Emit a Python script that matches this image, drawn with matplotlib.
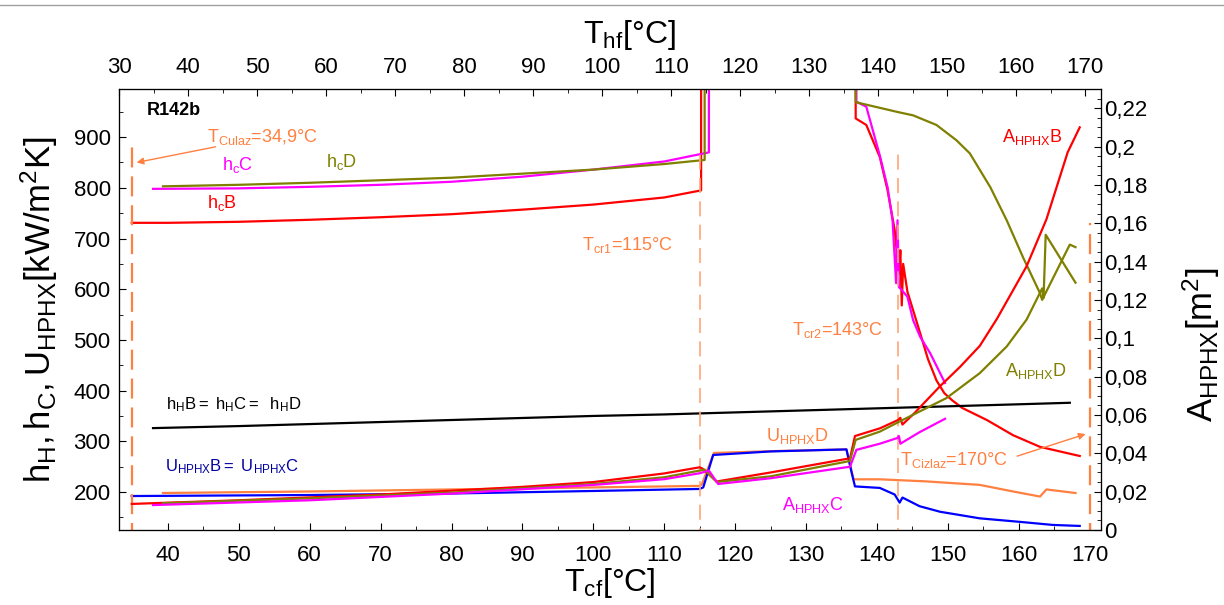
import numpy as np
import matplotlib
matplotlib.use("Agg")
from matplotlib import pyplot as plt
from matplotlib.ticker import MultipleLocator, FuncFormatter
from matplotlib.lines import Line2D

plt.rcParams['font.family'] = ['Liberation Sans', 'DejaVu Sans']
plt.rcParams['mathtext.fontset'] = 'custom'
plt.rcParams['mathtext.rm'] = 'Liberation Sans'
plt.rcParams['mathtext.it'] = 'Liberation Sans'

# ---- data (T_cf in degC) ----
# h_c, left axis
hcB_T = [34.9, 40, 50, 60, 70, 80, 90, 100, 110, 115.2, 115.2]
hcB_v = [731, 731, 733, 737, 742, 748, 757, 767, 781, 795, 1000]
hcB2_T = [137.0, 137.0, 138.5, 140.4, 141.5, 142.5, 143.1, 143.3, 143.5, 143.7, 144.3,
          146.1, 147.2, 148.4, 149.5, 150.6, 152.0, 155.5, 159.2, 163.0, 168.6]
hcB2_v = [1000, 937, 924, 861, 795, 717, 630, 677, 568, 650, 595,
          513, 462, 420, 395, 381, 366, 342, 312, 289, 271]

hcC_T = [37.9, 50, 60, 70, 80, 90, 100, 110, 116.3, 116.3]
hcC_v = [798, 799, 802, 806, 812, 822, 836, 852, 870, 1000]
hcC2_T = [137.1, 137.1, 138.5, 140.4, 141.5, 142.2, 142.7, 142.9, 143.1, 143.4, 144.3,
          145.1, 146.1, 147.5, 149.6]
hcC2_v = [1000, 970, 960, 864, 801, 736, 612, 736, 604, 600, 585,
          539, 506, 474, 415]

hcD_T = [39.3, 50, 60, 70, 80, 90, 100, 110, 115.7, 115.7]
hcD_v = [803, 806, 810, 815, 820, 828, 836, 847, 855, 1000]
hcD2_T = [137.0, 137.0, 142.8, 145.1, 148.4, 151.2, 153.1, 156.0, 158.3, 160.6,
          163.0, 163.3, 167.2, 168.0]
hcD2_v = [1000, 969, 950, 943, 924, 894, 868, 801, 736, 663,
          592, 579, 688, 683]

# h_H (same for B, C, D)
hH_T = [37.9, 50, 60, 70, 80, 90, 100, 110, 120, 130, 140, 150, 160, 167.2]
hH_v = [326, 330, 334, 338, 342, 346, 350, 353, 357, 361, 365, 369, 373, 376]

# U_HPHX
UB_T = [34.9, 60, 80, 100, 115.0, 115.5, 116.9, 125, 135.7, 136.4, 136.9, 140.4,
        142.5, 143.2, 143.6, 146.0, 148.9, 154.5, 160.2, 164.8, 168.6]
UB_v = [192, 194, 197, 202, 206, 209, 273, 280, 284, 240, 211, 208,
        195, 179, 189, 172, 161, 148, 141, 135, 133]
UD_T = [39.3, 60, 80, 100, 115.0, 115.3, 117.0, 126.3, 135.7, 136.7, 140.4, 146.8,
        154.5, 159.2, 163.0, 163.9, 168.0]
UD_v = [198, 201, 205, 209, 212, 215, 277, 281, 284, 225, 225, 221,
        214, 201, 191, 205, 198]

# A_HPHX, right axis
AB_T = [34.9, 50, 60, 70, 80, 90, 100, 110, 115.0, 115.4, 117.4, 125, 136.2, 136.9,
        140.4, 143.0, 143.3, 143.6, 145.3, 148.9, 151.7, 154.5, 156.9, 161.1, 163.9,
        166.9, 168.6]
AB_v = [0.0136, 0.0155, 0.0170, 0.0185, 0.0205, 0.0225, 0.0250, 0.0295, 0.0327, 0.0320,
        0.0253, 0.0300, 0.0374, 0.0490, 0.0530, 0.0574, 0.0585, 0.0550, 0.0610, 0.0750,
        0.0850, 0.0960, 0.1100, 0.1375, 0.1620, 0.1970, 0.2100]
AD_T = [39.3, 60, 80, 100, 110, 115.0, 115.7, 117.4, 125, 136.2, 137.0, 140.4, 143.2,
        149.8, 154.5, 158.3, 161.1, 163.3, 163.5, 163.8, 168.0]
AD_v = [0.0140, 0.0165, 0.0195, 0.0240, 0.0275, 0.0310, 0.0315, 0.0250, 0.0280, 0.0360,
        0.0470, 0.0513, 0.0566, 0.0688, 0.0818, 0.0957, 0.1097, 0.1260, 0.1210, 0.1540,
        0.1290]
AC_T = [37.9, 60, 80, 100, 110, 115.0, 116.3, 117.6, 125, 136.2, 137.1, 140.4, 142.9,
        143.1, 143.3, 146.0, 149.6]
AC_v = [0.0130, 0.0155, 0.0190, 0.0235, 0.0265, 0.0296, 0.0310, 0.0240, 0.0270, 0.0330,
        0.0418, 0.0450, 0.0480, 0.0490, 0.0450, 0.0510, 0.0580]

# marker temperatures
vl_T = [34.9, 115, 143, 170]
vl_top = [881, 878, 871, 730]

RED, MAG, OLV, BLU, ORG, LORG = '#ff0000', '#ff00ff', '#808000', '#0000ff', '#ff8040', '#ffa577'

fig = plt.figure(figsize=(12.24, 6.05), dpi=100)
ax = fig.add_axes([119 / 1224, 1 - 530 / 605, (1101 - 119) / 1224, (530 - 89) / 605])
ax2 = ax.twinx()
ax3 = ax.twiny()

lw = 1.6
ax.plot(hcB_T, hcB_v, color=RED, lw=lw)
ax.plot(hcB2_T, hcB2_v, color=RED, lw=lw)
ax.plot(hcC_T, hcC_v, color=MAG, lw=lw)
ax.plot(hcC2_T, hcC2_v, color=MAG, lw=lw)
ax.plot(hcD_T, hcD_v, color=OLV, lw=lw)
ax.plot(hcD2_T, hcD2_v, color=OLV, lw=lw)
ax.plot(hH_T, hH_v, color='black', lw=lw)
ax.plot(UD_T, UD_v, color=ORG, lw=lw)
ax.plot(UB_T, UB_v, color=BLU, lw=lw)

ax2.plot(AB_T, AB_v, color=RED, lw=lw)
ax2.plot(AD_T, AD_v, color=OLV, lw=lw)
ax2.plot(AC_T, AC_v, color=MAG, lw=lw)

for i, (t, top) in enumerate(zip(vl_T, vl_top)):
    if i in (0, 3):
        ax.plot([t, t], [100, top], color=ORG, lw=1.6, dashes=(9, 4))
    else:
        ax.plot([t, t], [100, top], color=LORG, lw=1.2, dashes=(9, 5))

ax.set_xlim(33.1, 171.6)
ax.set_ylim(125, 995)
ax2.set_ylim(0, 0.23)
ax3.set_xlim(29.95, 172.3)

ax.xaxis.set_major_locator(MultipleLocator(10))
ax.xaxis.set_minor_locator(MultipleLocator(5))
ax.yaxis.set_minor_locator(MultipleLocator(50))
ax.set_yticks(range(200, 1000, 100))
ax2.yaxis.set_major_locator(MultipleLocator(0.02))
ax2.yaxis.set_minor_locator(MultipleLocator(0.005))
ax2.yaxis.set_major_formatter(FuncFormatter(lambda v, p: ('%g' % round(v, 3)).replace('.', ',')))
ax3.xaxis.set_major_locator(MultipleLocator(10))
ax3.xaxis.set_minor_locator(MultipleLocator(5))

ax.tick_params(which='both', direction='in', top=False, right=False, labelsize=16)
ax.tick_params(which='major', length=5)
ax.tick_params(which='minor', length=3)
ax.tick_params(axis='x', pad=11)
ax.tick_params(axis='y', pad=6)
ax2.tick_params(which='both', direction='in', labelsize=16, pad=2)
ax2.tick_params(which='major', length=5)
ax2.tick_params(which='minor', length=3)
ax3.tick_params(which='both', direction='in', labelsize=16, pad=8)
ax3.tick_params(which='major', length=5)
ax3.tick_params(which='minor', length=3)

ax.set_xlabel(r'$\mathregular{T_{cf}[°C]}$', fontsize=23, labelpad=0)
ax3.set_xlabel(r'$\mathregular{T_{hf}[°C]}$', fontsize=23)
ax3.xaxis.set_label_coords(0.52, 1.0 + 46 / 441)
ax.set_ylabel(r'$\mathregular{h_H,h_C,U_{HPHX}[kW/m^2K]}$', fontsize=25, labelpad=10)
ax2.set_ylabel(r'$\mathregular{A_{HPHX}[m^2]}$', fontsize=25, labelpad=12)
ax2.yaxis.set_label_coords(1.0 + 80 / 982, 0.42)

fs = 12
fs2 = 13
ax.text(37.0, 953, 'R142b', fontsize=13, fontweight='bold', va='center')
ax.text(45.5, 900, r'$\mathregular{T_{Culaz}}$=34,9°C', color=ORG, fontsize=fs2, va='center')
ax.annotate('', xy=(35.2, 849), xytext=(47.1, 882),
            arrowprops=dict(arrowstyle='-|>', color=ORG, lw=1, mutation_scale=10))
ax.text(47.6, 845, r'$\mathregular{h_cC}$', color=MAG, fontsize=fs2, va='center')
ax.text(62.3, 851, r'$\mathregular{h_cD}$', color=OLV, fontsize=fs2, va='center')
ax.text(45.5, 770, r'$\mathregular{h_cB}$', color=RED, fontsize=fs2, va='center')
ax.text(98.4, 687, r'$\mathregular{T_{cr1}}$=115°C', color=ORG, fontsize=fs2, va='center')
ax.text(128.0, 519, r'$\mathregular{T_{cr2}}$=143°C', color=ORG, fontsize=fs2, va='center')
ax.text(39.7, 373, r'$\mathregular{h_HB=\ h_HC=\ \ h_HD}$', color='black', fontsize=fs, va='center')
ax.text(39.6, 249, r'$\mathregular{U_{HPHX}B=\ U_{HPHX}C}$', color='#0000a0', fontsize=fs, va='center')
ax.text(124.3, 310, r'$\mathregular{U_{HPHX}D}$', color=ORG, fontsize=fs2, va='center')
ax.text(126.6, 174, r'$\mathregular{A_{HPHX}C}$', color=MAG, fontsize=fs2, va='center')
ax.text(143.2, 263, r'$\mathregular{T_{Cizlaz}}$=170°C', color=ORG, fontsize=fs2, va='center')
ax.annotate('', xy=(169.8, 316), xytext=(159.4, 269),
            arrowprops=dict(arrowstyle='-|>', color=ORG, lw=1, mutation_scale=10))
ax.text(158.1, 439, r'$\mathregular{A_{HPHX}D}$', color=OLV, fontsize=fs2, va='center')
ax.text(157.6, 900, r'$\mathregular{A_{HPHX}B}$', color=RED, fontsize=fs2, va='center')

fig.add_artist(Line2D([0, 1], [1 - 5 / 605, 1 - 5 / 605], color='#a0a0a0', lw=1))

fig.savefig('out.png', dpi=100)
